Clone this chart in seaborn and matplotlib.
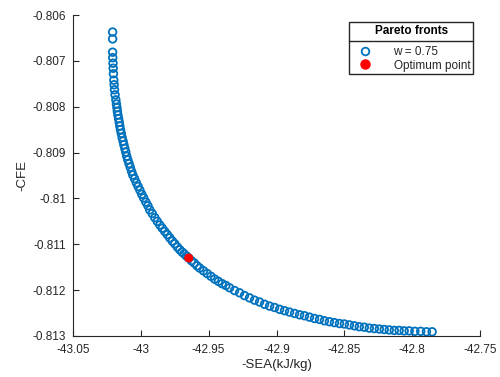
"""Pareto front scatter (-SEA vs -CFE) with the optimum point highlighted."""

import matplotlib

matplotlib.use("Agg")
import matplotlib.pyplot as plt  # noqa: E402
import seaborn as sns  # noqa: E402
from matplotlib.lines import Line2D  # noqa: E402

# Pareto front points (w = 0.75)
sea = [
    -43.0208, -43.0208, -43.0208, -43.0207, -43.0205, -43.0204, -43.0202, -43.0199,
    -43.0197, -43.0194, -43.0190, -43.0184, -43.0180, -43.0176, -43.0173, -43.0169,
    -43.0164, -43.0159, -43.0155, -43.0150, -43.0144, -43.0138, -43.0131, -43.0125,
    -43.0118, -43.0111, -43.0104, -43.0096, -43.0087, -43.0078, -43.0068, -43.0059,
    -43.0046, -43.0033, -43.0020, -43.0007, -42.9993, -42.9979, -42.9963, -42.9948,
    -42.9934, -42.9916, -42.9897, -42.9879, -42.9860, -42.9842, -42.9824, -42.9805,
    -42.9787, -42.9768, -42.9750, -42.9731, -42.9713, -42.9696, -42.9680, -42.9663,
    -42.9647, -42.9627, -42.9606, -42.9586, -42.9566, -42.9538, -42.9511, -42.9483,
    -42.9456, -42.9428, -42.9401, -42.9373, -42.9346, -42.9309, -42.9272, -42.9236,
    -42.9199, -42.9162, -42.9125, -42.9088, -42.9051, -42.9014, -42.8977, -42.8941,
    -42.8904, -42.8867, -42.8830, -42.8794, -42.8757, -42.8720, -42.8683, -42.8647,
    -42.8610, -42.8573, -42.8536, -42.8500, -42.8463, -42.8426, -42.8390, -42.8353,
    -42.8316, -42.8279, -42.8242, -42.8206, -42.8169, -42.8132, -42.8096, -42.8059,
    -42.8022, -42.7980, -42.7937, -42.7895, -42.7853,
]
cfe = [
    -0.80637, -0.80652, -0.80681, -0.80693, -0.80705, -0.80716, -0.80728, -0.80742,
    -0.80752, -0.80763, -0.80774, -0.80785, -0.80794, -0.80802, -0.80810, -0.80818,
    -0.80826, -0.80834, -0.80842, -0.80850, -0.80858, -0.80867, -0.80875, -0.80883,
    -0.80891, -0.80899, -0.80908, -0.80916, -0.80924, -0.80932, -0.80941, -0.80949,
    -0.80957, -0.80966, -0.80974, -0.80982, -0.80991, -0.80999, -0.81008, -0.81016,
    -0.81025, -0.81033, -0.81042, -0.81050, -0.81058, -0.81065, -0.81072, -0.81079,
    -0.81086, -0.81093, -0.81099, -0.81106, -0.81112, -0.81117, -0.81121, -0.81126,
    -0.81130, -0.81136, -0.81141, -0.81147, -0.81152, -0.81158, -0.81164, -0.81170,
    -0.81176, -0.81181, -0.81186, -0.81190, -0.81195, -0.81201, -0.81206, -0.81212,
    -0.81217, -0.81222, -0.81226, -0.81231, -0.81235, -0.81238, -0.81242, -0.81245,
    -0.81248, -0.81251, -0.81254, -0.81256, -0.81259, -0.81262, -0.81264, -0.81267,
    -0.81269, -0.81271, -0.81273, -0.81274, -0.81276, -0.81278, -0.81280, -0.81281,
    -0.81283, -0.81284, -0.81285, -0.81286, -0.81287, -0.81288, -0.81288, -0.81289,
    -0.81289, -0.81290, -0.81290, -0.81291, -0.81291,
]

# optimum point
opt_sea = [-42.9647]
opt_cfe = [-0.81130]

x_ticks = [-43.05, -43.0, -42.95, -42.9, -42.85, -42.8, -42.75]
x_tick_labels = ["-43.05", "-43", "-42.95", "-42.9", "-42.85", "-42.8", "-42.75"]
y_ticks = [-0.813, -0.812, -0.811, -0.81, -0.809, -0.808, -0.807, -0.806]
y_tick_labels = ["-0.813", "-0.812", "-0.811", "-0.81", "-0.809", "-0.808", "-0.807", "-0.806"]

BLUE = "#0072BD"
GREY = "#262626"

sns.set_style("ticks")
plt.rcParams["font.family"] = ["Liberation Sans", "DejaVu Sans"]

fig = plt.figure(figsize=(5.0, 3.77), dpi=100)
ax = fig.add_axes([0.146, 0.109, 0.814, 0.851])

sns.scatterplot(x=sea, y=cfe, ax=ax, marker="o", s=30, facecolor="none",
                edgecolor=BLUE, linewidth=1.3, zorder=2)
sns.scatterplot(x=opt_sea, y=opt_cfe, ax=ax, marker="o", s=42, color="red",
                edgecolor="none", linewidth=0, zorder=3)

ax.set_xlim(-43.05, -42.75)
ax.set_ylim(-0.813, -0.806)
ax.set_xticks(x_ticks, x_tick_labels)
ax.set_yticks(y_ticks, y_tick_labels)
ax.tick_params(direction="in", length=4, width=0.8, color=GREY, labelcolor=GREY,
               labelsize=8.5)
ax.tick_params(axis="x", pad=6)
ax.tick_params(axis="y", pad=5)
for side in ("left", "bottom"):
    ax.spines[side].set_linewidth(0.8)
    ax.spines[side].set_color(GREY)
sns.despine(ax=ax)

ax.set_xlabel("-SEA(kJ/kg)", fontsize=9.5, color=GREY, labelpad=2)
ax.set_ylabel("-CFE", fontsize=9.5, color=GREY, labelpad=3)

handles = [
    Line2D([], [], ls="none", marker="o", ms=5.5, mfc="none", mec=BLUE, mew=1.3),
    Line2D([], [], ls="none", marker="o", ms=6.5, mfc="red", mec="red"),
]
leg = ax.legend(handles, ["w = 0.75", "Optimum point"], title="Pareto fronts",
                loc="upper right", bbox_to_anchor=(0.983, 0.977), fontsize=8.5,
                title_fontproperties={"weight": "bold", "size": 8.5},
                frameon=True, fancybox=False, edgecolor=GREY, framealpha=1,
                borderpad=0.25, handletextpad=1.3, labelspacing=0.15,
                handlelength=2.2, borderaxespad=0)
leg.get_frame().set_linewidth(1.0)
for t in leg.get_texts():
    t.set_color(GREY)
leg.get_title().set_color("black")
# extra room between the title and the entries
leg._legend_box.sep = 6

# separator line under the legend title (MATLAB style)
fig.canvas.draw()
bb = leg.get_window_extent()
tb = leg.get_title().get_window_extent()
eb = leg.get_texts()[0].get_window_extent()
y_sep = (tb.y0 + eb.y1) / 2 + 1
inv = fig.transFigure.inverted()
(x0, y0), (x1, _) = inv.transform([(bb.x0, y_sep), (bb.x1, y_sep)])
fig.add_artist(Line2D([x0, x1], [y0, y0], color=GREY, lw=1.0, transform=fig.transFigure))

fig.savefig("out.png", dpi=100)
